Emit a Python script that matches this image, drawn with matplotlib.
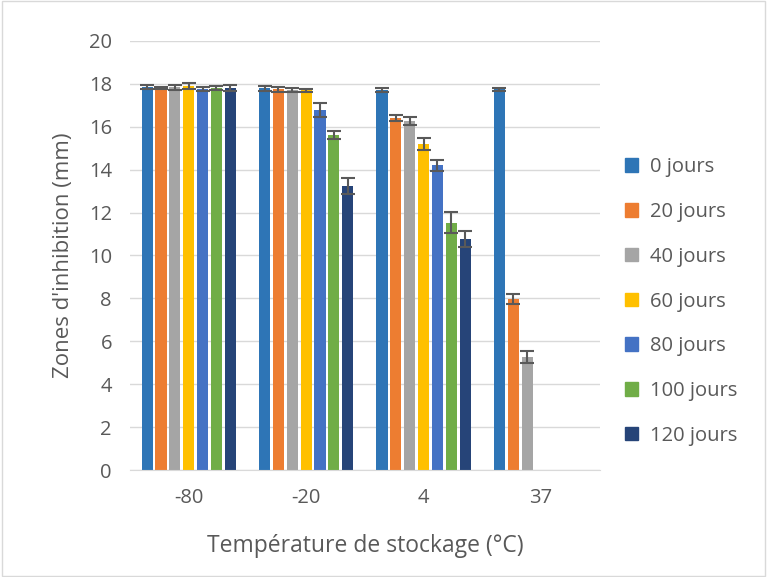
import matplotlib.pyplot as plt
import numpy as np
from matplotlib.patches import Patch, Rectangle

temperatures = ["-80", "-20", "4", "37"]
durations = ["0 jours", "20 jours", "40 jours", "60 jours", "80 jours", "100 jours", "120 jours"]

# zone values per duration, one entry per temperature (nan = no bar)
zone_0 = [17.85, 17.8, 17.72, 17.75]
zone_20 = [17.8, 17.75, 16.4, 7.97]
zone_40 = [17.85, 17.7, 16.27, 5.27]
zone_60 = [17.9, 17.7, 15.2, np.nan]
zone_80 = [17.75, 16.78, 14.2, np.nan]
zone_100 = [17.8, 15.62, 11.53, np.nan]
zone_120 = [17.8, 13.24, 10.77, np.nan]

err_0 = [0.1, 0.12, 0.08, 0.07]
err_20 = [0.05, 0.12, 0.13, 0.25]
err_40 = [0.12, 0.1, 0.18, 0.27]
err_60 = [0.15, 0.08, 0.27, np.nan]
err_80 = [0.1, 0.33, 0.25, np.nan]
err_100 = [0.1, 0.2, 0.5, np.nan]
err_120 = [0.13, 0.38, 0.38, np.nan]

zones = [zone_0, zone_20, zone_40, zone_60, zone_80, zone_100, zone_120]
errs = [err_0, err_20, err_40, err_60, err_80, err_100, err_120]
colors = ["#2E75B6", "#ED7D31", "#A5A5A5", "#FFC000", "#4472C4", "#70AD47", "#264478"]

plt.rcParams['font.family'] = ['Open Sans', 'DejaVu Sans']
text_color = "#595959"

fig = plt.figure(figsize=(7.67, 5.77), dpi=100)
ax = fig.add_axes([0.1695, 0.1854, 0.6125, 0.7436])

x = np.arange(len(temperatures))
slot = 0.118
width = 0.095
for i, (vals, err) in enumerate(zip(zones, errs)):
    pos = x + (i - 3) * slot
    ax.bar(pos, vals, width=width, color=colors[i], zorder=2)
    ax.errorbar(pos, vals, yerr=err, fmt="none", ecolor="#595959",
                elinewidth=1.5, capsize=5, capthick=1.5, zorder=3)

ax.set_ylim(0, 20)
ax.set_xlim(-0.5, 3.5)
ax.set_yticks(range(0, 21, 2))
ax.set_xticks(x)
ax.set_xticklabels(temperatures)
ax.grid(axis="y", color="#D9D9D9", linewidth=1, zorder=0)
ax.set_axisbelow(True)
for s in ["top", "right", "left"]:
    ax.spines[s].set_visible(False)
ax.spines["bottom"].set_color("#D9D9D9")
ax.tick_params(axis="both", length=0, labelsize=14.5, colors=text_color)
ax.tick_params(axis="y", pad=13)
ax.tick_params(axis="x", pad=13)
ax.set_xlabel("Température de stockage (°C)", fontsize=16.5, color=text_color)
ax.set_ylabel("Zones d'inhibition (mm)", fontsize=16, color=text_color)
ax.xaxis.set_label_coords(0.5, -0.148)
ax.yaxis.set_label_coords(-0.12, 0.5)

handles = [Patch(color=c) for c in colors]
fig.legend(handles, durations, loc="upper left", bbox_to_anchor=(0.802, 0.745),
           frameon=False, fontsize=14.5, labelspacing=1.23, borderpad=0,
           handlelength=0.65, handleheight=0.65, handletextpad=0.6,
           labelcolor=text_color)

fig.patches.append(Rectangle((0.002, 0.002), 0.996, 0.996, transform=fig.transFigure,
                             fill=False, edgecolor="#D9D9D9", linewidth=1))

fig.savefig("out.png", dpi=100)
